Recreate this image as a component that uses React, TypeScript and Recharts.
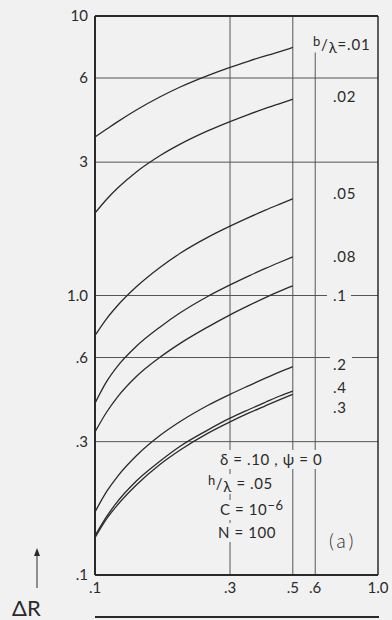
import React from 'react'
import { LineChart, Line, XAxis, YAxis, ReferenceLine } from 'recharts'

// abscissa samples (shared by every curve)
const xValues = [0.1, 0.11, 0.12, 0.14, 0.17, 0.2, 0.25, 0.3, 0.35, 0.4, 0.45, 0.5]

// ΔR for each b/λ
const ratio01 = [3.69, 3.94, 4.18, 4.61, 5.14, 5.57, 6.12, 6.55, 6.9, 7.2, 7.45, 7.72]
const ratio02 = [1.973, 2.211, 2.418, 2.766, 3.167, 3.478, 3.879, 4.19, 4.449, 4.671, 4.863, 5.039]
const ratio05 = [0.719, 0.827, 0.919, 1.074, 1.262, 1.416, 1.614, 1.77, 1.903, 2.02, 2.123, 2.218]
const ratio08 = [0.412, 0.493, 0.558, 0.658, 0.772, 0.867, 0.992, 1.091, 1.176, 1.25, 1.315, 1.374]
const ratio1 = [0.325, 0.383, 0.433, 0.513, 0.602, 0.674, 0.771, 0.853, 0.922, 0.983, 1.036, 1.082]
const ratio2 = [0.168, 0.199, 0.225, 0.267, 0.316, 0.354, 0.404, 0.443, 0.476, 0.506, 0.533, 0.557]
const ratio4 = [0.138, 0.162, 0.183, 0.217, 0.256, 0.289, 0.33, 0.364, 0.391, 0.415, 0.437, 0.455]
const ratio3 = [0.136, 0.159, 0.178, 0.21, 0.249, 0.28, 0.321, 0.353, 0.38, 0.403, 0.424, 0.443]

const xTicks = [0.1, 0.3, 0.5, 0.6, 1]
const xTickLabels = ['.1', '.3', '.5', '.6', '1.0']
const yTicks = [0.1, 0.3, 0.6, 1, 3, 6, 10]
const yTickLabels = ['.1', '.3', '.6', '1.0', '3', '6', '10']
const gridY = [0.3, 0.6, 1, 3, 6]
const gridX = [0.3, 0.5]

const series = [
  { key: 'r01', values: ratio01 },
  { key: 'r02', values: ratio02 },
  { key: 'r05', values: ratio05 },
  { key: 'r08', values: ratio08 },
  { key: 'r1', values: ratio1 },
  { key: 'r2', values: ratio2 },
  { key: 'r4', values: ratio4 },
  { key: 'r3', values: ratio3 },
]

const chartData = xValues.map((x, i) => {
  const row: Record<string, number> = { x }
  series.forEach(s => { row[s.key] = s.values[i] })
  return row
})

const BG = '#f1f1f1'
const INK = '#2a2a2a'
const FONT = 'Lato, "Liberation Sans", sans-serif'

const txt = (left: number, top: number, extra: React.CSSProperties = {}): React.CSSProperties => ({
  position: 'absolute',
  left,
  top,
  fontSize: 15,
  lineHeight: '15px',
  color: INK,
  whiteSpace: 'nowrap',
  letterSpacing: 0.8,
  ...extra,
})

// parameter block lines hide the grid behind them
const masked = { letterSpacing: 0.6, background: BG, padding: '2px 3px' }

export default function App() {
  return (
    <div style={{ position: 'absolute', left: 0, top: 0, width: 392, height: 620, background: BG, overflow: 'hidden', fontFamily: FONT }}>
      <LineChart width={392} height={620} data={chartData} margin={{ top: 16, right: 14, left: 55, bottom: 15 }}>
        <XAxis
          dataKey="x"
          type="number"
          scale="log"
          domain={[0.1, 1]}
          ticks={xTicks}
          allowDataOverflow
          axisLine={false}
          tickLine={false}
          tickSize={4}
          tickMargin={3}
          height={30}
          tick={{ fill: INK, fontSize: 15, fontFamily: FONT }}
          tickFormatter={(v: number) => xTickLabels[xTicks.indexOf(v)] ?? ''}
        />
        <YAxis
          type="number"
          scale="log"
          domain={[0.1, 10]}
          ticks={yTicks}
          allowDataOverflow
          axisLine={false}
          tickLine={false}
          tickSize={4}
          tickMargin={3}
          width={40}
          tick={{ fill: INK, fontSize: 15, fontFamily: FONT }}
          tickFormatter={(v: number) => yTickLabels[yTicks.indexOf(v)] ?? ''}
        />
        {gridY.map(v => (
          <ReferenceLine key={'gy' + v} y={v} stroke="#555" strokeWidth={1} />
        ))}
        {gridX.map(v => (
          <ReferenceLine key={'gx' + v} x={v} stroke="#555" strokeWidth={1} />
        ))}
        <ReferenceLine segment={[{ x: 0.6, y: 0.1 }, { x: 0.6, y: 7.4 }]} stroke="#555" strokeWidth={1} />
        {/* plot frame */}
        <ReferenceLine x={0.1} stroke={INK} strokeWidth={2} />
        <ReferenceLine x={1} stroke={INK} strokeWidth={1.5} />
        <ReferenceLine y={0.1} stroke={INK} strokeWidth={2} />
        <ReferenceLine y={10} stroke={INK} strokeWidth={2} />
        {series.map(s => (
          <Line
            key={s.key}
            dataKey={s.key}
            type="monotone"
            stroke={INK}
            strokeWidth={1.3}
            dot={false}
            isAnimationActive={false}
          />
        ))}
      </LineChart>

      {/* b/λ labels in the right strip */}
      <div style={txt(313, 37)}>
        <span style={{ position: 'relative', top: -4, fontSize: 13 }}>b</span>
        <span>/</span>
        <span style={{ position: 'relative', top: 3 }}>λ</span>=.01
      </div>
      <div style={txt(333, 89)}>.02</div>
      <div style={txt(333, 186)}>.05</div>
      <div style={txt(333, 249)}>.08</div>
      <div style={txt(327, 288, { background: BG, padding: '0 4px 0 6px' })}>.1</div>
      <div style={txt(330, 357, { background: BG, padding: '0 5px 0 3px' })}>.2</div>
      <div style={txt(333, 380)}>.4</div>
      <div style={txt(333, 400)}>.3</div>

      {/* parameters */}
      <div style={txt(217, 450, masked)}>δ = .10 , ψ = 0</div>
      <div style={txt(205, 474, masked)}>
        <span style={{ position: 'relative', top: -4, fontSize: 13 }}>h</span>
        <span>/</span>
        <span style={{ position: 'relative', top: 3 }}>λ</span> = .05
      </div>
      <div style={txt(217, 500, masked)}>
        C = 10<span style={{ position: 'relative', top: -5, fontSize: 13 }}>−6</span>
      </div>
      <div style={txt(215, 523, masked)}>N = 100</div>
      <div style={txt(329, 531, { fontSize: 19, lineHeight: '19px', letterSpacing: 3, fontWeight: 300 })}>(a)</div>

      {/* ΔR axis label with arrow */}
      <svg style={{ position: 'absolute', left: 30, top: 546 }} width={14} height={44}>
        <line x1={7} y1={8} x2={7} y2={42} stroke={INK} strokeWidth={1} />
        <polygon points="4,10 7,2 10,10" fill={INK} />
      </svg>
      <div style={txt(12, 597, { fontSize: 22, lineHeight: '22px', letterSpacing: 0 })}>ΔR</div>

      {/* top edge of the next panel */}
      <div style={{ position: 'absolute', left: 95, top: 616, width: 284, height: 2, background: INK }} />
    </div>
  )
}
